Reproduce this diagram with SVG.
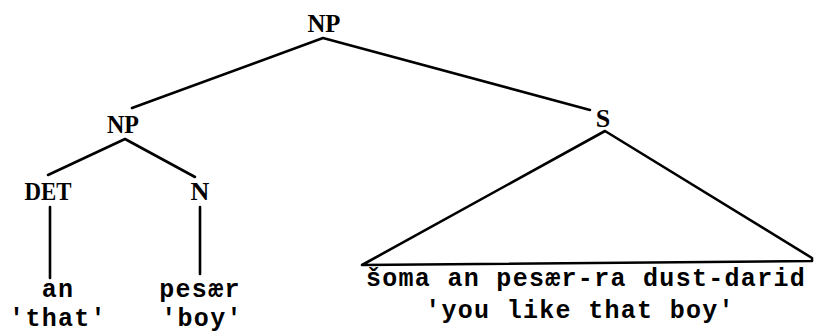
<svg xmlns="http://www.w3.org/2000/svg" width="814" height="333" viewBox="0 0 814 333">
<style>
.lab{font-family:"Liberation Serif","Times New Roman",serif;font-weight:bold;font-size:26px;fill:#000;text-anchor:middle}
.w{font-family:"Liberation Mono","Courier New",monospace;font-weight:bold;font-size:25px;letter-spacing:1.3px;fill:#000;text-anchor:middle}
.e{stroke:#000;stroke-width:2.6;fill:none;stroke-linecap:round;stroke-linejoin:round}
</style>
<rect width="814" height="333" fill="#fff"/>
<g id="connectors">
<polyline class="e" points="132,108 323,38 590,110"/>
<polyline class="e" points="48,175 125,139 195,177"/>
<line class="e" x1="50" y1="207" x2="50" y2="278"/>
<line class="e" x1="200" y1="207" x2="200" y2="274"/>
<polygon class="e" points="605,131 812,258 812,261 362,265"/>
</g>
<g id="np-top"><text class="lab" x="324" y="32" textLength="33" lengthAdjust="spacingAndGlyphs">NP</text></g>
<g id="np"><text class="lab" x="123" y="133" textLength="32" lengthAdjust="spacingAndGlyphs">NP</text></g>
<g id="s"><text class="lab" x="603" y="127">S</text></g>
<g id="det"><text class="lab" x="48" y="200" textLength="47" lengthAdjust="spacingAndGlyphs">DET</text></g>
<g id="n"><text class="lab" x="200" y="200">N</text></g>
<g id="an"><text class="w" x="58" y="297">an</text><text class="w" x="58" y="326">'that'</text></g>
<g id="peser"><text class="w" x="200" y="297">pesær</text><text class="w" x="202" y="326">'boy'</text></g>
<g id="clause"><text class="w" x="586" y="286">šoma an pesær-ra dust-darid</text><text class="w" x="580" y="318">'you like that boy'</text></g>
</svg>
